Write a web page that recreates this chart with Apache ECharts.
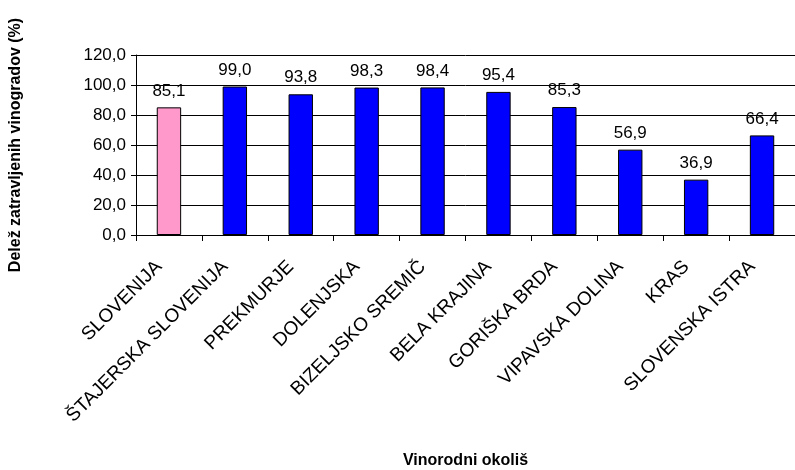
<!DOCTYPE html>
<html>
<head>
<meta charset="utf-8">
<script src="https://cdn.jsdelivr.net/npm/echarts@6/dist/echarts.min.js"></script>
<style>
  html, body { margin: 0; padding: 0; background: #fff; }
  #chart { width: 795px; height: 470px; }
</style>
</head>
<body>
<div id="chart"></div>
<script>
// Wine-growing districts and share of grassed vineyards (%)
const categories = [
  'SLOVENIJA', 'ŠTAJERSKA SLOVENIJA', 'PREKMURJE', 'DOLENJSKA', 'BIZELJSKO SREMIČ',
  'BELA KRAJINA', 'GORIŠKA BRDA', 'VIPAVSKA DOLINA', 'KRAS', 'SLOVENSKA ISTRA'
];
const values = [85.1, 99.0, 93.8, 98.3, 98.4, 95.4, 85.3, 56.9, 36.9, 66.4];
const yTicks = [0, 20, 40, 60, 80, 100, 120];

const fmt = v => Number(v).toFixed(1).replace('.', ',');
const font = 'Arial, "Liberation Sans", sans-serif';

const chart = echarts.init(document.getElementById('chart'));
chart.setOption({
  animation: false,
  backgroundColor: '#ffffff',
  grid: { left: 132, top: 55, width: 669, height: 181, containLabel: false },
  xAxis: {
    type: 'category',
    data: categories,
    name: 'Vinorodni okoliš',
    nameLocation: 'middle',
    nameGap: 218,
    nameTextStyle: { fontFamily: font, fontSize: 16, fontWeight: 'bold', color: '#000' },
    axisLine: { lineStyle: { color: '#000', width: 1 } },
    axisTick: { show: true, alignWithLabel: false, length: 6, lineStyle: { color: '#000' } },
    axisLabel: {
      rotate: 45, interval: 0, fontFamily: font, fontSize: 19, color: '#000',
      margin: 19, padding: [0, 14, 0, 0]
    }
  },
  yAxis: {
    type: 'value',
    min: yTicks[0],
    max: yTicks[yTicks.length - 1],
    interval: 20,
    name: 'Delež zatravljenih vinogradov (%)',
    nameLocation: 'middle',
    nameGap: 112,
    nameTextStyle: { fontFamily: font, fontSize: 16, fontWeight: 'bold', color: '#000' },
    axisLine: { show: true, lineStyle: { color: '#000', width: 1 } },
    axisTick: { show: true, length: 5, lineStyle: { color: '#000' } },
    axisLabel: { fontFamily: font, fontSize: 17, color: '#000', margin: 10, formatter: v => fmt(v) },
    splitLine: { show: true, lineStyle: { color: '#000', width: 1 } }
  },
  series: [{
    type: 'bar',
    barWidth: '37%',
    data: values.map((v, i) => ({
      value: v,
      itemStyle: { color: i === 0 ? '#FF99CC' : '#0000FF' }
    })),
    itemStyle: { borderColor: '#000', borderWidth: 1 },
    label: {
      show: true,
      position: 'top',
      distance: 8,
      fontFamily: font,
      fontSize: 17,
      color: '#000',
      formatter: p => fmt(p.value)
    }
  }]
});
</script>
</body>
</html>
